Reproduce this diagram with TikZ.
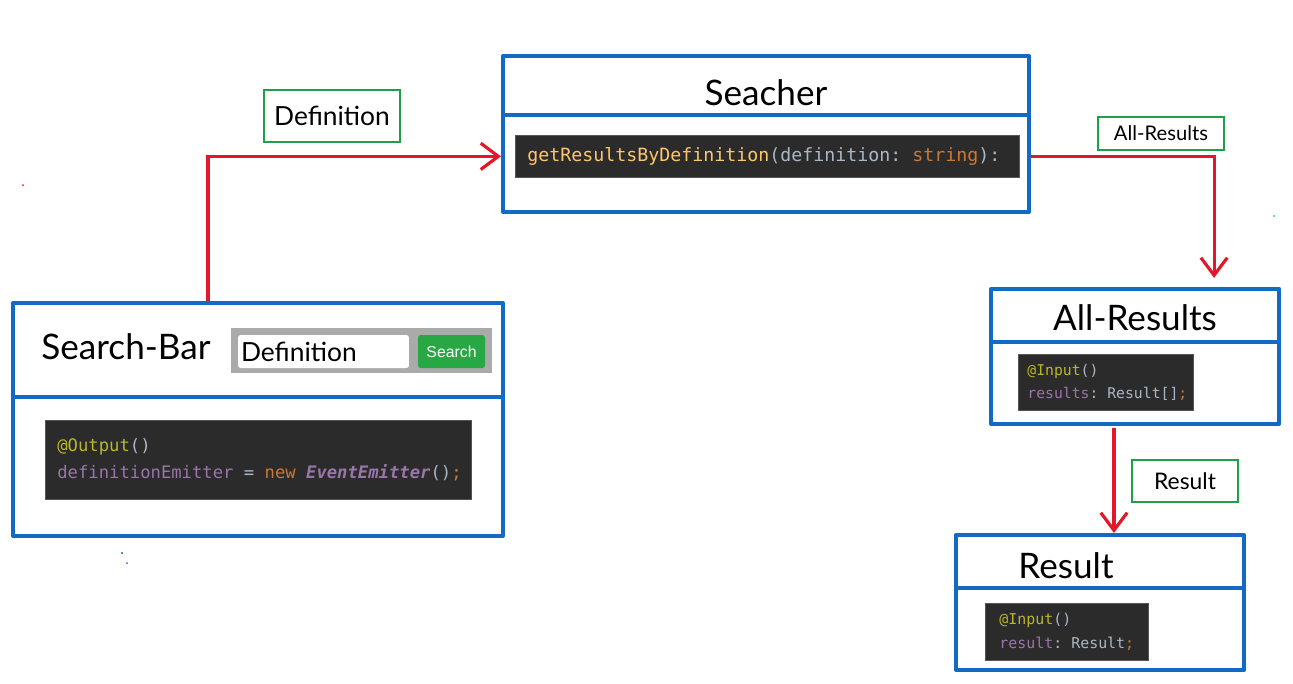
\documentclass[tikz,border=0pt]{standalone}
\usepackage{fontspec}
\usepackage{xcolor}
\usepackage{tikz}
\usetikzlibrary{arrows.meta, positioning, calc}
\newfontfamily\handfont{Lato}
\newfontfamily\codefont{DejaVu Sans Mono}
\newfontfamily\uifont{Liberation Sans}
\newcommand{\csp}{\hspace*{0.602em}}
\definecolor{boxblue}{RGB}{18, 106, 196}
\definecolor{arrowred}{RGB}{230, 22, 42}
\definecolor{labelgreen}{RGB}{30, 160, 75}
\definecolor{codebg}{RGB}{43, 43, 43}
\definecolor{codeanno}{RGB}{187, 181, 41}
\definecolor{codeplain}{RGB}{169, 183, 198}
\definecolor{codefield}{RGB}{152, 118, 170}
\definecolor{codekey}{RGB}{204, 120, 50}
\definecolor{codemethod}{RGB}{255, 198, 109}
\definecolor{btngreen}{RGB}{40, 167, 69}
\definecolor{fieldgray}{RGB}{170, 170, 170}

\begin{document}
\begin{tikzpicture}[x=0.02cm, y=-0.02cm,
    classbox/.style={draw=boxblue, line width=2.4pt, line join=round, inner sep=0pt},
    divider/.style={draw=boxblue, line width=2.4pt},
    codebox/.style={fill=codebg, draw=codebg!80!white, line width=0.4pt, inner ysep=0pt, align=left, anchor=north west},
    tag/.style={draw=labelgreen, line width=1.5pt, inner sep=0pt},
    flow/.style={draw=arrowred, line width=1.8pt, -{Straight Barb[length=10pt, width=15pt]}},
    title/.style={font=\handfont\fontsize{20}{24}\selectfont}]
    \useasboundingbox (0,0) rectangle (1293,683);

    % class boxes
    \node[classbox, minimum width=10.52cm, minimum height=3.12cm] (searcher) at (766,134) {};
    \node[classbox, minimum width=9.8cm, minimum height=4.66cm] (bar) at (258,419.5) {};
    \node[classbox, minimum width=5.76cm, minimum height=2.7cm] (allres) at (1135,356.5) {};
    \node[classbox, minimum width=5.76cm, minimum height=2.7cm] (result) at (1100,602.5) {};
    \draw[divider] (searcher.west |- 0,115) -- (searcher.east |- 0,115);
    \draw[divider] (bar.west |- 0,397) -- (bar.east |- 0,397);
    \draw[divider] (allres.west |- 0,342) -- (allres.east |- 0,342);
    \draw[divider] (result.west |- 0,588) -- (result.east |- 0,588);

    % titles
    \node[title] (searchertitle) at (766,93) {Seacher};
    \node[title] (bartitle) at (126,347) {Search-Bar};
    \node[title] (allrestitle) at (1135,318) {All-Results};
    \node[title] (resulttitle) at (1066,566) {Result};

    % search widget
    \node[fill=fieldgray, minimum width=5.22cm, minimum height=0.9cm, inner sep=0pt] (searchfield) at (361.5,350.5) {};
    \node[fill=white, rounded corners=1.5pt, minimum width=3.42cm, minimum height=0.66cm, text width=3.3cm,
          inner xsep=0.06cm, inner ysep=0pt, align=left, font=\handfont\fontsize{15}{18}\selectfont] (queryinput) at (323.5,351.5) {Definition};
    \node[fill=btngreen, rounded corners=1.5pt, minimum width=1.34cm, minimum height=0.66cm, inner sep=0pt,
          text=white, font=\uifont\fontsize{9}{11}\selectfont] (searchbtn) at (451.5,351.5) {Search};

    % code snippets
    \node[codebox, minimum width=10.08cm, minimum height=0.84cm, inner xsep=0.24cm, text width=9.6cm,
          font=\codefont\fontsize{10.4}{17}\selectfont] (getcode) at (515,135)
        {\mbox{\textcolor{codemethod}{getResultsByDefinition}\textcolor{codeplain}{(definition:\csp}\textcolor{codekey}{string}\textcolor{codeplain}{):}}};
    \node[codebox, minimum width=8.52cm, minimum height=1.58cm, inner xsep=0.24cm, text width=8.04cm,
          font=\codefont\fontsize{9.8}{15.3}\selectfont] (emitcode) at (45,420)
        {\mbox{\textcolor{codeanno}{@Output}\textcolor{codeplain}{()}}\\
         \mbox{\textcolor{codefield}{definitionEmitter}\csp\textcolor{codeplain}{=}\csp\textcolor{codekey}{new}\csp\textcolor{codefield}{\bfseries\itshape EventEmitter}\textcolor{codeplain}{()}\textcolor{codekey}{;}}};
    \node[codebox, minimum width=3.5cm, minimum height=1.12cm, inner xsep=0.18cm, text width=3.14cm,
          font=\codefont\fontsize{8.4}{13}\selectfont] (resultscode) at (1018,354)
        {\mbox{\textcolor{codeanno}{@Input}\textcolor{codeplain}{()}}\\
         \mbox{\textcolor{codefield}{results}\textcolor{codeplain}{:\csp Result[]}\textcolor{codekey}{;}}};
    \node[codebox, minimum width=3.26cm, minimum height=1.14cm, inner xsep=0.28cm, text width=2.7cm,
          font=\codefont\fontsize{8.5}{13.6}\selectfont] (resultcode) at (985,603)
        {\mbox{\textcolor{codeanno}{@Input}\textcolor{codeplain}{()}}\\
         \mbox{\textcolor{codefield}{result}\textcolor{codeplain}{:\csp Result}\textcolor{codekey}{;}}};

    % data labels
    \node[tag, minimum width=2.72cm, minimum height=1.04cm, font=\handfont\fontsize{15}{18}\selectfont] (deflabel) at (332,116) {Definition};
    \node[tag, minimum width=2.52cm, minimum height=0.66cm, font=\handfont\fontsize{11.5}{14}\selectfont] (allreslabel) at (1161,133.5) {All-Results};
    \node[tag, minimum width=2.12cm, minimum height=0.84cm, font=\handfont\fontsize{13}{16}\selectfont] (reslabel) at (1185,481) {Result};

    % flows
    \draw[flow] ($(bar.north west)+(197,0)$) |- (searcher.west |- getcode.west);
    \draw[flow] (searcher.east |- getcode.east) -| ($(allres.north east)+(-67,-9)$);
    \coordinate (resstart) at ($(allres.south west)+(125,2)$);
    \draw[flow] (resstart) -- (resstart |- result.north);

    % stray marks
    \fill[arrowred] (23,185) circle (1);
    \fill[labelgreen!70!cyan] (1274,216) circle (1);
    \fill[boxblue] (122,553) circle (1.2);
    \fill[boxblue] (127,563) circle (1);
\end{tikzpicture}
\end{document}
